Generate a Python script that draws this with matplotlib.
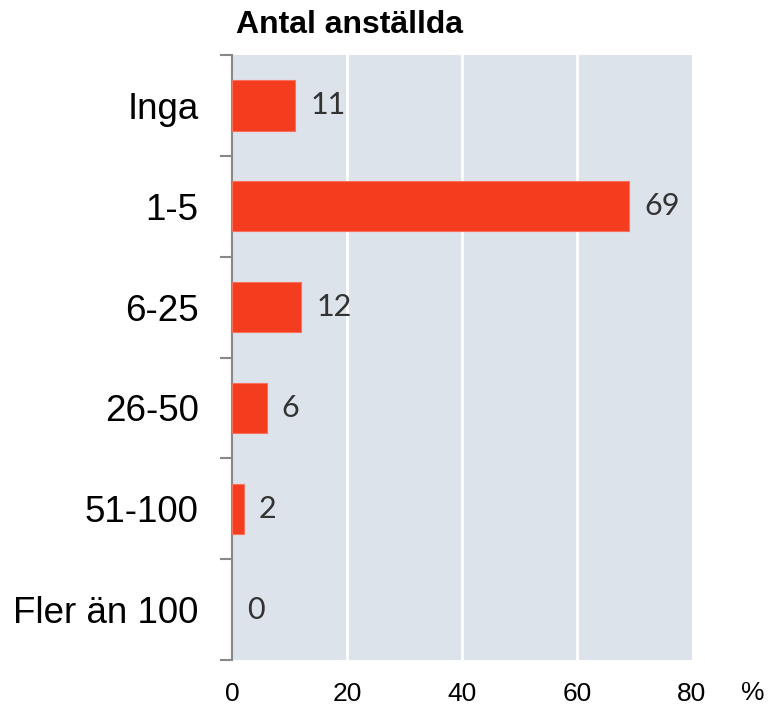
import matplotlib
matplotlib.use('Agg')
import matplotlib.pyplot as plt
import numpy as np

categories = ['Inga', '1-5', '6-25', '26-50', '51-100', 'Fler än 100']
values = [11, 69, 12, 6, 2, 0]
x_ticks = [0, 20, 40, 60, 80]

fig = plt.figure(figsize=(7.71, 7.08), dpi=100)
ax = fig.add_axes([232 / 771, 1 - 660 / 708, 460 / 771, 605 / 708])
ax.set_facecolor('#dde3ea')

pos = np.arange(len(categories))
edges = ['#f6725c' if v > 0 else 'none' for v in values]
ax.barh(pos, values, height=0.5, color='#f43c1e', edgecolor=edges, linewidth=0.8, zorder=3)

for p, v in zip(pos, values):
    ax.annotate(str(v), (v, p), xytext=(11, 0), textcoords='offset points',
                va='center', ha='left', fontsize=22, color='#333333',
                family=['Lato', 'DejaVu Sans'], zorder=4)

ax.set_xlim(0, 80)
ax.set_ylim(len(categories) - 0.5, -0.5)
ax.set_xticks(x_ticks)
ax.set_xticklabels([str(t) for t in x_ticks], fontsize=19, family='Liberation Sans')
ax.tick_params(axis='x', length=0, pad=16)
for g in x_ticks[1:-1]:
    ax.axvline(g, color='white', linewidth=2, zorder=1)

ax.set_yticks(pos)
ax.set_yticklabels(categories, fontsize=26.5, family='Liberation Sans')
ax.set_yticks(np.arange(len(categories) + 1) - 0.5, minor=True)
ax.tick_params(axis='y', which='major', length=0, pad=24)
ax.tick_params(axis='y', which='minor', length=9, width=1.5, color='#888888')

for side in ['top', 'right', 'bottom']:
    ax.spines[side].set_visible(False)
ax.spines['left'].set_color('#888888')
ax.spines['left'].set_linewidth(1.5)

fig.text(236 / 771, 1 - 25 / 708, 'Antal anställda', fontsize=23, fontweight='bold',
         family='Liberation Sans', ha='left', va='center')
fig.text(753 / 771, 1 - 693 / 708, '%', fontsize=19, family='Liberation Sans',
         ha='center', va='center')

fig.savefig('out.png', dpi=100)
